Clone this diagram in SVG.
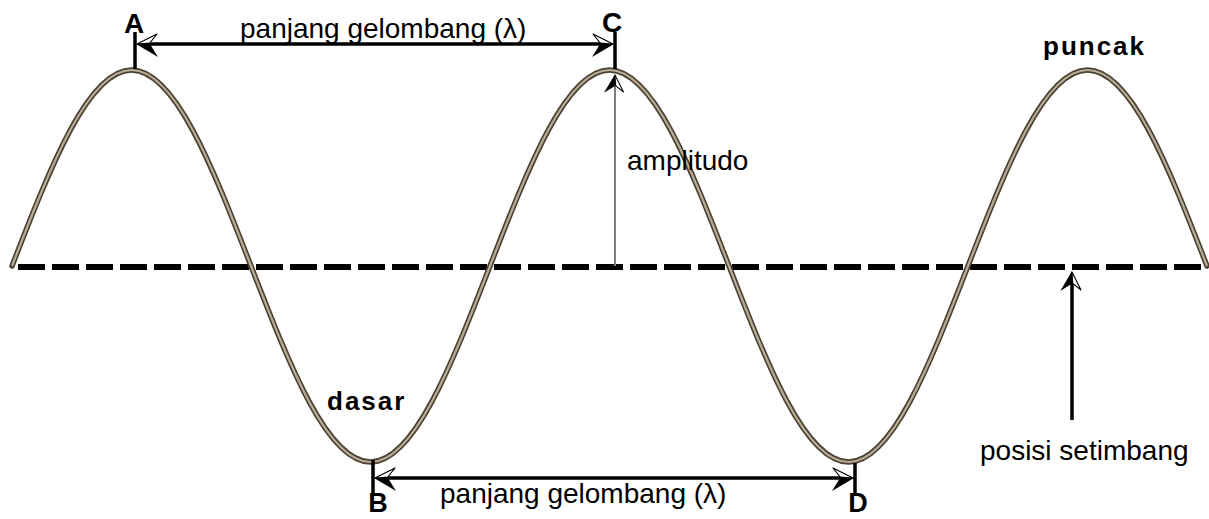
<svg xmlns="http://www.w3.org/2000/svg" width="1209" height="519" viewBox="0 0 1209 519">
<style>
.lbl{font-family:"Liberation Sans",Arial,sans-serif;font-size:28px;fill:#000}
.pt{font-family:"Liberation Sans",Arial,sans-serif;font-size:28px;font-weight:bold;fill:#000;text-anchor:middle}
.pb{font-family:"Liberation Sans",Arial,sans-serif;font-size:27px;font-weight:bold;fill:#000;text-anchor:middle}
.bw{font-family:"Liberation Sans",Arial,sans-serif;font-size:26px;font-weight:bold;letter-spacing:2px;fill:#000}
.tick{stroke:#000;stroke-width:3.5;fill:none}
.arr{stroke:#000;stroke-width:3.5;fill:none}
</style>
<defs>
<g id="hd">
<path d="M0,0 L-20,-10 L-12,0 Z" fill="#fff" stroke="#000" stroke-width="1.2" stroke-linejoin="round"/>
<path d="M1,0 L-12,-1.5 L-21,13 Z" fill="#000"/>
</g>
</defs>
<rect width="1209" height="519" fill="#fff"/>
<g id="equilibrium">
<line x1="18" y1="267" x2="1202" y2="267" stroke="#000" stroke-width="6" stroke-dasharray="27 7"/>
</g>
<g id="wave">
<path d="M12,266 C50.97,165.6 88.26,70 131.5,70 S212.03,165.6 251,266 S327.26,462 370.5,462 S451.03,366.4 490,266 S566.26,70 609.5,70 S690.03,165.6 729,266 S805.26,462 848.5,462 S929.03,366.4 968,266 S1044.26,70 1087.5,70 S1168.03,165.6 1207,266" fill="none" stroke="#4a4133" stroke-width="5.5" stroke-linecap="round"/>
<path d="M12,266 C50.97,165.6 88.26,70 131.5,70 S212.03,165.6 251,266 S327.26,462 370.5,462 S451.03,366.4 490,266 S566.26,70 609.5,70 S690.03,165.6 729,266 S805.26,462 848.5,462 S929.03,366.4 968,266 S1044.26,70 1087.5,70 S1168.03,165.6 1207,266" fill="none" stroke="#b8ac96" stroke-width="2.2"/>
</g>
<g id="connectors">
<line class="tick" x1="135" y1="32" x2="135" y2="69"/>
<line class="tick" x1="615" y1="32" x2="615" y2="69"/>
<line class="tick" x1="373" y1="460" x2="373" y2="493"/>
<line class="tick" x1="855" y1="463" x2="855" y2="493"/>
<line class="arr" x1="140" y1="44" x2="610" y2="44"/>
<use href="#hd" transform="translate(137,44) scale(-1,1)"/>
<use href="#hd" transform="translate(613,44)"/>
<line class="arr" x1="378" y1="478" x2="850" y2="478"/>
<use href="#hd" transform="translate(375,478) scale(-1,1)"/>
<use href="#hd" transform="translate(853,478)"/>
<line x1="615" y1="266" x2="615" y2="82" stroke="#808080" stroke-width="2"/>
<use href="#hd" transform="translate(615,75) matrix(0,-0.85,-0.85,0,0,0)"/>
<line class="arr" x1="1072" y1="420" x2="1072" y2="280"/>
<use href="#hd" transform="translate(1072,272) matrix(0,-0.9,-0.9,0,0,0)"/>
</g>
<g id="labels">
<text class="pt" x="134" y="33">A</text>
<text class="pt" x="612" y="32">C</text>
<text class="pb" x="378" y="512">B</text>
<text class="pb" x="858" y="512">D</text>
<text class="lbl" x="240" y="38">panjang gelombang (λ)</text>
<text class="lbl" x="440" y="503">panjang gelombang (λ)</text>
<text class="lbl" x="627" y="170">amplitudo</text>
<text class="lbl" x="980" y="460">posisi setimbang</text>
<text class="bw" x="1043" y="55">puncak</text>
<text class="bw" x="327" y="410">dasar</text>
</g>
</svg>
